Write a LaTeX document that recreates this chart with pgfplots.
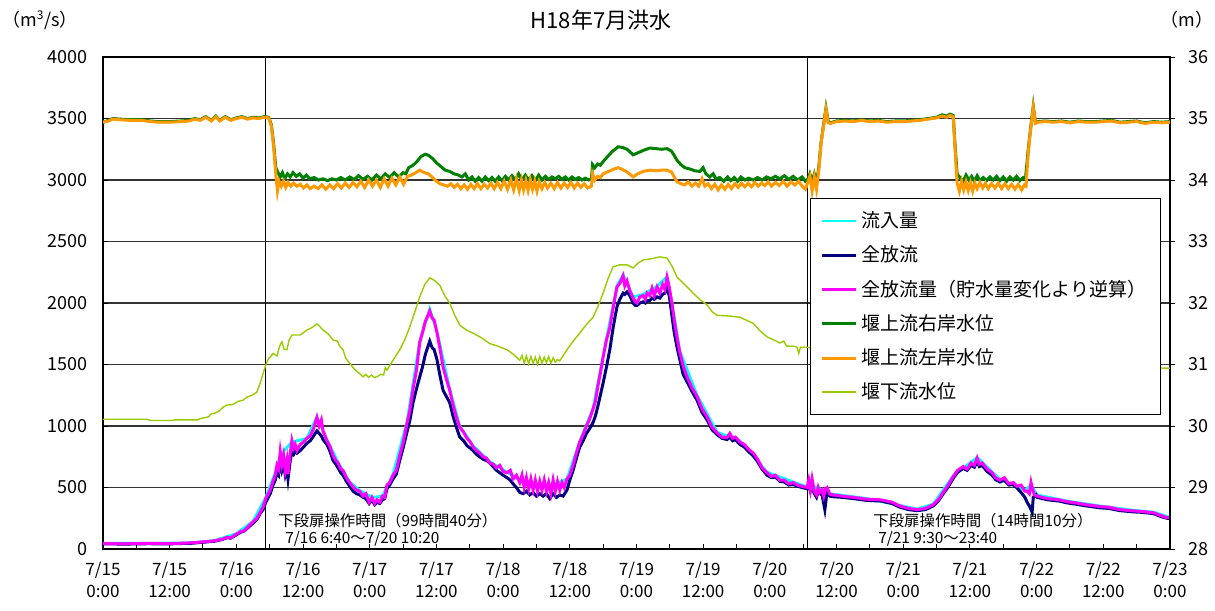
\documentclass[border=0pt]{standalone}
\usepackage{fontspec}
\setmainfont{Noto Sans CJK JP}
\usepackage{pgfplots}
\pgfplotsset{compat=1.18}
\definecolor{inflow}{RGB}{0,255,255}
\definecolor{outflow}{RGB}{0,0,128}
\definecolor{backcalc}{RGB}{255,0,255}
\definecolor{rightbank}{RGB}{0,128,0}
\definecolor{leftbank}{RGB}{255,153,0}
\definecolor{downstream}{RGB}{153,204,0}
\newcommand{\xtickfont}{\fontsize{8.5}{11}\selectfont}
\newcommand{\ytickfont}{\fontsize{9}{11}\selectfont}
\begin{document}
\begin{tikzpicture}
% left axis: discharge (m3/s)
\begin{axis}[
    scale only axis, width=533.5pt, height=246pt,
    xmin=0, xmax=192, ymin=0, ymax=4000,
    xtick={0,12,...,192}, minor xtick={6,18,...,186},
    xticklabels={7/15\\0:00,7/15\\12:00,7/16\\0:00,7/16\\12:00,7/17\\0:00,7/17\\12:00,7/18\\0:00,7/18\\12:00,7/19\\0:00,7/19\\12:00,7/20\\0:00,7/20\\12:00,7/21\\0:00,7/21\\12:00,7/22\\0:00,7/22\\12:00,7/23\\0:00},
    xticklabel style={align=center, font=\xtickfont, yshift=-3pt},
    ytick={0,500,...,4000},
    yticklabel style={font=\ytickfont, xshift=-4pt},
    /pgf/number format/assume math mode=true,
    scaled y ticks=false, yticklabel={\pgfmathprintnumber[1000 sep={}]{\tick}},
    xtick pos=bottom, ytick pos=left, tick align=inside,
    major tick length=2.5pt, minor tick length=2.5pt,
    tick style={black, line width=0.5pt},
    ymajorgrids, grid style={black!80, line width=0.6pt},
    axis line style={black, line width=0.6pt},
    clip mode=individual,
]
\addplot[black, line width=0.5pt, forget plot] coordinates {(29.3,0) (29.3,4000)};
\addplot[black, line width=0.5pt, forget plot] coordinates {(126.7,0) (126.7,4000)};
% inflow
\addplot[inflow, line width=1.4pt] coordinates {
(0,46)(8,46)(16,50)(20,68)(24,125)(27,225)(29.3,420)(31,620)(32,770)(34,870)(36.7,900)(38.5,1075)(40.3,890)(42.3,705)(44.4,545)(46.2,475)(48.5,420)(50.3,430)(52.2,610)(54.7,1030)(57,1690)(58.8,1950)(60.1,1770)(62.4,1300)(64.2,1000)(66.6,840)(69.6,710)(72.7,625)(75,560)(78,520)(81,520)(83.5,570)(85.8,875)(88.2,1145)(90,1570)(92.5,2140)(93.6,2230)(95.4,2050)(97.2,2070)(99.7,2135)(101.5,2215)(102.4,2000)(103.8,1610)(106.9,1250)(110.5,950)(114.6,880)(119.5,625)(124.2,545)(126.7,505)(128.5,500)(130.8,450)(137.5,410)(143.4,355)(146.5,325)(149.4,365)(153,595)(157.3,745)(161.4,565)(165.9,480)(167,520)(168.1,440)(173.5,390)(179.4,350)(185.4,315)(189,300)(192,258)
};
% total outflow
\addplot[outflow, line width=1.5pt] coordinates {
(0,42)(4,40)(8,43)(12,42)(16,47)(18,55)(20,63)(21.5,78)(22.3,92)(23,88)(23.8,110)(24.7,135)(25.5,148)(26.2,178)(27,210)(27.7,240)(28.3,290)(28.8,320)(29.3,380)(30.1,450)(30.6,520)(31.0,560)(31.3,620)(31.6,600)(31.9,720)(32.2,640)(32.5,690)(32.8,600)(33.1,650)(33.3,570)(33.7,720)(34.0,790)(34.3,770)(34.6,800)(34.9,780)(35.5,800)(36.1,830)(36.7,860)(37.3,880)(37.9,920)(38.5,960)(38.9,940)(39.3,920)(39.6,890)(40.3,850)(40.8,800)(41.4,720)(41.9,690)(42.3,660)(42.8,620)(43.2,600)(43.8,550)(44.4,510)(45.0,470)(45.6,450)(46.2,440)(46.8,420)(47.3,410)(47.9,370)(48.4,400)(48.9,360)(49.3,380)(49.8,370)(50.3,400)(50.7,410)(51.1,490)(51.6,520)(52.2,570)(52.8,610)(53.4,720)(54.0,820)(54.7,950)(55.2,1040)(55.8,1190)(56.4,1300)(57.0,1400)(57.5,1480)(58.0,1580)(58.5,1650)(58.8,1690)(59.2,1640)(59.6,1620)(60.1,1540)(60.6,1420)(61.2,1290)(61.8,1240)(62.4,1190)(63.0,1080)(63.6,990)(64.2,910)(64.9,880)(65.5,840)(66.1,820)(66.6,800)(67.2,770)(67.8,750)(68.4,730)(69.0,720)(69.6,700)(70.2,670)(70.8,640)(71.4,620)(72.0,600)(72.7,580)(73.3,560)(73.8,530)(74.4,500)(75.0,460)(75.6,450)(76.2,470)(76.8,440)(77.4,460)(78.0,430)(78.6,450)(79.2,430)(79.8,450)(80.4,410)(81.0,450)(81.6,420)(82.2,440)(82.8,430)(83.5,480)(84.0,560)(84.6,640)(85.2,740)(85.8,830)(86.4,880)(87.0,940)(87.6,980)(88.2,1030)(88.6,1080)(89.0,1150)(89.5,1250)(90.0,1350)(90.6,1480)(91.2,1620)(91.8,1800)(92.2,1900)(92.5,1970)(93.0,2030)(93.6,2080)(93.9,2070)(94.3,2090)(94.8,2060)(95.4,2000)(95.8,1980)(96.1,1980)(96.6,2000)(97.2,2010)(97.6,2000)(97.9,2020)(98.4,2020)(98.8,2040)(99.2,2030)(99.7,2050)(100.2,2040)(100.7,2070)(101.1,2080)(101.5,2120)(101.9,2060)(102.4,1890)(102.8,1760)(103.3,1640)(103.8,1540)(104.4,1420)(105.1,1360)(106.0,1280)(106.9,1210)(107.8,1110)(108.7,1050)(109.6,970)(110.5,930)(111.4,900)(112.3,890)(112.8,910)(113.3,880)(113.8,890)(114.6,850)(115.4,830)(116.2,790)(117.0,760)(117.8,710)(118.6,650)(119.5,600)(120.3,580)(121.0,585)(121.8,550)(122.6,545)(123.4,520)(124.2,525)(125.0,510)(125.8,500)(126.7,490)(127.0,520)(127.3,470)(127.6,500)(128.0,450)(128.4,420)(128.7,470)(129.0,450)(129.4,440)(129.9,320)(130.3,470)(130.8,430)(131.4,425)(133,420)(135,410)(137.5,395)(140,390)(142,370)(143.4,340)(145,320)(146.5,312)(148,320)(149.4,350)(150.3,390)(151.2,450)(152.1,505)(153.0,575)(153.8,625)(154.8,655)(155.5,640)(156.2,680)(156.8,665)(157.3,710)(157.7,670)(158.2,680)(159.1,630)(160.0,600)(160.6,565)(161.4,545)(162.2,560)(163.0,520)(163.8,525)(164.5,495)(165.2,460)(165.9,420)(166.3,380)(166.7,350)(167.2,300)(167.4,420)(167.9,440)(168.1,420)(170,400)(172,390)(173.5,375)(175,365)(177,350)(179.4,335)(181,330)(183,312)(185.4,302)(187,298)(189.0,288)(190.5,262)(191.5,250)(192,250)
};
% total outflow back-calculated from storage change
\addplot[backcalc, line width=1.5pt] coordinates {
(0,45)(4,42)(8,46)(12,44)(16,50)(18,58)(20,66)(21.5,80)(22.3,95)(23,90)(23.8,115)(24.7,140)(25.5,150)(26.2,185)(27,220)(27.7,250)(28.3,300)(28.8,340)(29.3,410)(30.1,480)(30.6,550)(31.0,600)(31.3,680)(31.6,650)(31.9,790)(32.2,690)(32.5,760)(32.8,640)(33.1,720)(33.3,610)(33.7,780)(34.0,880)(34.3,820)(34.6,850)(34.9,800)(35.5,850)(36.1,870)(36.7,900)(37.3,920)(37.9,980)(38.5,1070)(38.9,1000)(39.3,1050)(39.6,960)(40.3,880)(40.8,840)(41.4,760)(41.9,720)(42.3,700)(42.8,650)(43.2,640)(43.8,580)(44.4,540)(45.0,505)(45.6,480)(46.2,470)(46.8,430)(47.3,450)(47.9,380)(48.4,420)(48.9,370)(49.3,400)(49.8,380)(50.3,430)(50.7,420)(51.1,520)(51.6,540)(52.2,600)(52.8,640)(53.4,760)(54.0,860)(54.7,1020)(55.2,1120)(55.8,1300)(56.4,1450)(57.0,1680)(57.5,1760)(58.0,1850)(58.5,1900)(58.8,1935)(59.2,1880)(59.6,1860)(60.1,1760)(60.6,1640)(61.2,1480)(61.8,1380)(62.4,1290)(63.0,1170)(63.6,1070)(64.2,990)(64.9,950)(65.5,900)(66.1,870)(66.6,830)(67.2,800)(67.8,780)(68.4,750)(69.0,740)(69.6,700)(70.2,690)(70.8,660)(71.4,680)(72.0,630)(72.7,620)(73.3,640)(73.8,570)(74.4,600)(75.0,540)(75.4,600)(75.8,500)(76.2,580)(76.6,490)(77.0,570)(77.4,480)(77.8,560)(78.2,470)(78.6,550)(79.0,480)(79.4,560)(79.8,470)(80.2,540)(80.6,450)(81.0,560)(81.4,470)(81.8,550)(82.2,480)(82.6,540)(83.0,500)(83.5,570)(84.0,600)(84.6,680)(85.2,780)(85.8,870)(86.4,930)(87.0,1000)(87.6,1060)(88.2,1140)(88.6,1200)(89.0,1310)(89.5,1430)(90.0,1560)(90.6,1700)(91.2,1800)(91.8,1960)(92.2,2060)(92.5,2130)(93.0,2160)(93.6,2220)(93.9,2140)(94.3,2180)(94.8,2100)(95.4,2040)(95.8,2010)(96.1,2000)(96.6,2050)(97.2,2060)(97.6,2030)(97.9,2080)(98.4,2060)(98.8,2120)(99.2,2060)(99.7,2130)(100.2,2080)(100.7,2150)(101.1,2110)(101.5,2210)(101.9,2130)(102.4,1990)(102.8,1860)(103.3,1720)(103.8,1600)(104.4,1490)(105.1,1400)(106.0,1310)(106.9,1240)(107.8,1140)(108.7,1075)(109.6,990)(110.5,945)(111.4,910)(112.3,905)(112.8,940)(113.3,900)(113.8,910)(114.6,870)(115.4,850)(116.2,810)(117.0,780)(117.8,730)(118.6,660)(119.5,620)(120.3,590)(121.0,600)(121.8,560)(122.6,560)(123.4,530)(124.2,540)(125.0,520)(125.8,510)(126.7,500)(127.0,560)(127.3,480)(127.6,570)(128.0,470)(128.4,440)(128.7,500)(129.0,460)(129.4,480)(129.7,430)(130.0,490)(130.3,500)(130.8,445)(131.4,440)(133,430)(135,420)(137.5,405)(140,400)(142,380)(143.4,350)(145,330)(146.5,320)(148,330)(149.4,360)(150.3,400)(151.2,460)(152.1,520)(153.0,590)(153.8,640)(154.8,670)(155.5,650)(156.2,700)(156.8,680)(157.3,740)(157.7,690)(158.2,700)(159.1,650)(160.0,620)(160.6,580)(161.4,560)(162.2,580)(163.0,530)(163.8,540)(164.5,510)(165.2,520)(165.9,470)(166.3,470)(166.7,450)(167.0,540)(167.2,500)(167.6,440)(168.1,430)(170,410)(172,400)(173.5,385)(175,375)(177,360)(179.4,345)(181,340)(183,320)(185.4,310)(187,305)(189.0,295)(190.5,270)(191.5,255)(192,255)
};
\node[font=\fontsize{11}{13}\selectfont] at (rel axis cs:0.4667,1.075) {H18年7月洪水};
\node[font=\ytickfont] at (rel axis cs:-0.059,1.075) {（m\textsuperscript{3}/s）};
\node[font=\ytickfont] at (rel axis cs:1.0160,1.075) {（m）};
\node[font=\fontsize{7.7}{9}\selectfont, anchor=west, inner sep=0pt] at (rel axis cs:0.164,0.057) {下段扉操作時間（99時間40分）};
\node[font=\fontsize{7.7}{9}\selectfont, anchor=west, inner sep=0pt] at (rel axis cs:0.1706,0.0203) {7/16 6:40～7/20 10:20};
\node[font=\fontsize{7.7}{9}\selectfont, anchor=west, inner sep=0pt] at (rel axis cs:0.7217,0.057) {下段扉操作時間（14時間10分）};
\node[font=\fontsize{7.7}{9}\selectfont, anchor=west, inner sep=0pt] at (rel axis cs:0.7263,0.0203) {7/21 9:30～23:40};
\coordinate (bl) at (rel axis cs:-0.0965,-0.124);
\coordinate (tr) at (rel axis cs:1.0422,1.1159);
\end{axis}
% right axis: water level (m)
\begin{axis}[
    scale only axis, width=533.5pt, height=246pt,
    xmin=0, xmax=192, ymin=28, ymax=36,
    axis x line=none, axis y line*=right,
    ytick={28,...,36},
    yticklabel style={font=\ytickfont, xshift=3pt},
    /pgf/number format/assume math mode=true,
    tick align=outside, major tick length=2.5pt,
    tick style={black, line width=0.5pt},
    axis line style={black, line width=0.6pt},
    legend style={at={(rel axis cs:0.6626,0.7134)}, anchor=north west,
        draw=black, fill=white, line width=0.5pt,
        font=\fontsize{9.5}{11}\selectfont, row sep=3.6pt,
        inner xsep=5pt, inner ysep=4.5pt},
    legend cell align=left,
]
\addlegendimage{inflow, line width=1.4pt}
\addlegendentry{流入量}
\addlegendimage{outflow, line width=1.5pt}
\addlegendentry{全放流}
\addlegendimage{backcalc, line width=1.5pt}
\addlegendentry{全放流量（貯水量変化より逆算）}
% right bank upstream level
\addplot[rightbank, line width=1.5pt] coordinates {
(0,34.94)(1,34.97)(1.8,35.0)(3,34.99)(5,34.98)(7,34.98)(8.5,34.96)(10,34.95)(12,34.95)(14,34.96)(15.5,34.97)(16.5,35.0)(17.5,34.98)(18.5,35.03)(19.5,34.97)(20.3,35.04)(21,34.97)(22,35.03)(23,34.98)(24,35.01)(25,35.03)(26,35.0)(27,35.02)(28,35.01)(29.0,35.03)(29.8,35.02)(30.3,34.9)(30.7,34.6)(31.1,34.2)(31.5,34.12)(31.9,34.05)(32.3,34.12)(32.7,34.02)(33.2,34.1)(33.7,34.05)(34.2,34.12)(34.8,34.06)(35.4,34.1)(36,34.03)(36.6,34.08)(37.2,34.02)(38,34.04)(38.8,34.0)(39.6,34.02)(40.4,33.99)(41.2,34.02)(42,34.0)(42.8,34.04)(43.6,34.0)(44.4,34.05)(45.2,34.01)(46,34.07)(46.8,34.01)(47.6,34.06)(48.4,34.0)(49.2,34.08)(50,34.02)(50.8,34.1)(51.6,34.04)(52.4,34.12)(53.2,34.05)(54,34.12)(54.5,34.1)(55,34.2)(55.8,34.24)(56.5,34.3)(57.2,34.38)(58,34.42)(58.6,34.4)(59.3,34.35)(60,34.28)(60.8,34.22)(61.6,34.16)(62.4,34.14)(63.2,34.1)(64,34.08)(64.6,34.05)(65.2,34.1)(65.8,34.0)(66.4,34.05)(67,33.98)(67.6,34.04)(68.2,33.98)(68.8,34.05)(69.4,33.99)(70,34.04)(70.6,33.98)(71.2,34.05)(71.8,33.99)(72.4,34.06)(73,34.0)(73.6,34.07)(74.2,34.0)(74.8,34.1)(75.4,34.0)(76,34.08)(76.6,34.0)(77.2,34.07)(77.8,33.99)(78.4,34.08)(79,34.0)(79.6,34.06)(80.2,34.01)(80.8,34.05)(81.4,34.02)(82,34.06)(82.6,34.01)(83.2,34.05)(83.8,34.0)(84.4,34.05)(85,34.01)(85.6,34.04)(86.2,34.0)(86.8,34.03)(87.4,34.0)(87.9,34.02)(88.1,34.25)(88.5,34.2)(89,34.26)(89.5,34.24)(90,34.3)(90.8,34.38)(91.6,34.46)(92.7,34.54)(93.5,34.53)(94.3,34.5)(95.4,34.41)(96.2,34.44)(97.2,34.48)(98.4,34.52)(99.5,34.51)(100.5,34.5)(101.5,34.51)(102.3,34.47)(102.8,34.4)(103.3,34.32)(104,34.25)(104.7,34.2)(105.6,34.18)(106.5,34.15)(107.4,34.14)(108.0,34.2)(108.5,34.1)(109.2,34.05)(109.8,34.1)(110.3,34.02)(111,34.04)(111.7,33.98)(112.4,34.05)(113,33.99)(113.6,34.04)(114.2,33.98)(114.8,34.05)(115.5,34.0)(116.2,34.03)(117,34.0)(117.8,34.04)(118.6,34.0)(119.4,34.05)(120.2,34.02)(121,34.06)(121.8,34.02)(122.6,34.07)(123.4,34.01)(124.2,34.06)(125,34.0)(125.8,34.05)(126.4,33.98)(126.9,34.02)(127.2,34.1)(127.6,33.98)(128.0,34.1)(128.4,33.96)(128.8,34.2)(129.2,34.6)(129.7,34.92)(130.1,35.17)(130.5,34.95)(130.9,34.93)(132,34.96)(133.5,34.97)(135,34.96)(136.5,34.98)(138,34.96)(139.5,34.97)(141,34.95)(142.5,34.96)(144,34.96)(145.5,34.97)(147,34.98)(148.5,35.0)(150,35.02)(151,35.06)(151.8,35.04)(152.4,35.07)(153,35.05)(153.3,34.6)(153.7,34.1)(154.2,34.04)(154.8,33.98)(155.3,34.08)(155.8,34.0)(156.3,34.06)(156.8,33.98)(157.3,34.07)(157.8,33.99)(158.4,34.04)(159,33.99)(159.6,34.05)(160.2,34.0)(160.8,34.06)(161.4,33.99)(162,34.05)(162.6,33.98)(163.2,34.05)(163.8,34.0)(164.4,34.06)(165,33.99)(165.6,34.04)(166.0,34.02)(166.5,34.5)(167,34.9)(167.4,35.2)(167.8,34.93)(168.3,34.95)(169.5,34.96)(171,34.95)(172.5,34.96)(174,34.94)(175.5,34.96)(177,34.95)(178.5,34.95)(180,34.96)(181.5,34.97)(183,34.94)(184.5,34.95)(186,34.96)(187.5,34.93)(189,34.95)(190.5,34.94)(192,34.95)
};
\addlegendentry{堰上流右岸水位}
% left bank upstream level
\addplot[leftbank, line width=1.5pt] coordinates {
(0,34.94)(1,34.96)(1.8,34.99)(3,34.98)(5,34.97)(7,34.97)(8.5,34.95)(10,34.94)(12,34.94)(14,34.95)(15.5,34.96)(16.5,34.99)(17.5,34.97)(18.5,35.02)(19.5,34.96)(20.3,35.03)(21,34.96)(22,35.02)(23,34.97)(24,35.0)(25,35.02)(26,34.99)(27,35.01)(28,35.0)(29.0,35.02)(29.8,35.01)(30.3,34.88)(30.7,34.55)(31.1,34.1)(31.4,33.82)(31.7,33.98)(32.1,33.9)(32.5,33.98)(32.9,33.88)(33.3,33.96)(33.8,33.9)(34.3,33.95)(34.9,33.9)(35.5,33.93)(36.1,33.87)(36.7,33.92)(37.3,33.86)(38,33.9)(38.7,33.86)(39.4,33.92)(40.1,33.85)(40.8,33.92)(41.5,33.86)(42.2,33.94)(42.9,33.87)(43.6,33.95)(44.3,33.88)(45,33.96)(45.7,33.89)(46.4,33.98)(47.1,33.88)(47.8,34.0)(48.5,33.9)(49.2,34.0)(49.9,33.88)(50.6,34.02)(51.3,33.9)(52,34.03)(52.7,33.92)(53.4,34.05)(54.1,33.93)(54.8,34.06)(55.5,34.08)(56.3,34.12)(57,34.16)(57.8,34.12)(58.6,34.1)(59.3,34.04)(60,33.98)(60.6,33.94)(61.3,33.92)(62,33.9)(62.6,33.94)(63.2,33.88)(63.8,33.93)(64.4,33.86)(65,33.92)(65.6,33.85)(66.2,33.93)(66.8,33.86)(67.4,33.94)(68,33.86)(68.6,33.93)(69.2,33.87)(69.8,33.95)(70.4,33.86)(71,33.96)(71.6,33.86)(72.2,33.98)(72.8,33.85)(73.4,34.0)(73.9,33.84)(74.4,34.02)(74.9,33.83)(75.3,34.0)(75.7,33.84)(76.1,33.99)(76.5,33.83)(76.9,34.0)(77.3,33.85)(77.7,33.98)(78.1,33.82)(78.5,33.97)(79,33.86)(79.5,33.96)(80,33.87)(80.6,33.95)(81.2,33.86)(81.8,33.96)(82.4,33.87)(83,33.95)(83.6,33.88)(84.2,33.96)(84.8,33.87)(85.4,33.95)(86,33.88)(86.6,33.94)(87.2,33.87)(87.9,33.9)(88.1,34.1)(88.5,34.0)(89,34.06)(89.5,34.04)(90,34.1)(91,34.14)(92,34.18)(92.7,34.2)(93.5,34.17)(94.3,34.13)(95,34.08)(95.4,34.05)(96.2,34.1)(97.2,34.14)(98.4,34.16)(99.5,34.15)(100.5,34.16)(101.5,34.16)(102.3,34.13)(102.8,34.05)(103.3,33.97)(104,33.94)(104.7,33.92)(105.3,33.97)(106,33.9)(106.6,33.95)(107.2,33.9)(107.8,34.02)(108.3,33.9)(108.9,33.94)(109.5,33.86)(110.1,33.93)(110.7,33.84)(111.3,33.92)(111.9,33.85)(112.5,33.93)(113.1,33.86)(113.7,33.94)(114.3,33.88)(114.9,33.95)(115.5,33.89)(116.1,33.95)(116.7,33.89)(117.3,33.96)(117.9,33.9)(118.5,33.95)(119.1,33.91)(119.7,33.97)(120.3,33.9)(121,33.96)(121.7,33.91)(122.4,33.98)(123.1,33.9)(123.8,33.97)(124.5,33.92)(125.2,33.98)(125.8,33.9)(126.4,33.85)(126.9,33.98)(127.2,34.06)(127.6,33.82)(128.0,34.05)(128.4,33.85)(128.8,34.15)(129.2,34.58)(129.7,34.9)(130.1,35.15)(130.5,34.93)(130.9,34.92)(132,34.95)(133.5,34.96)(135,34.95)(136.5,34.97)(138,34.95)(139.5,34.96)(141,34.94)(142.5,34.95)(144,34.95)(145.5,34.96)(147,34.97)(148.5,34.99)(150,35.01)(151,35.04)(151.8,35.02)(152.4,35.05)(153,35.03)(153.3,34.55)(153.7,33.95)(154.1,33.82)(154.5,33.98)(154.9,33.84)(155.3,33.97)(155.7,33.83)(156.1,33.96)(156.5,33.82)(156.9,33.95)(157.3,33.86)(157.8,33.96)(158.3,33.87)(158.8,33.95)(159.3,33.86)(159.9,33.94)(160.5,33.87)(161.1,33.95)(161.7,33.86)(162.3,33.94)(162.9,33.86)(163.5,33.93)(164.1,33.85)(164.7,33.93)(165.3,33.84)(165.8,33.92)(166.1,33.9)(166.5,34.45)(167,34.88)(167.4,35.18)(167.8,34.92)(168.3,34.94)(169.5,34.95)(171,34.94)(172.5,34.95)(174,34.93)(175.5,34.95)(177,34.94)(178.5,34.94)(180,34.95)(181.5,34.96)(183,34.93)(184.5,34.94)(186,34.95)(187.5,34.92)(189,34.94)(190.5,34.93)(192,34.94)
};
\addlegendentry{堰上流左岸水位}
% downstream level
\addplot[downstream, line width=0.7pt] coordinates {
(0,30.11)(8,30.11)(8.5,30.09)(12.5,30.09)(13,30.1)(17,30.1)(17.5,30.12)(19,30.15)(19.5,30.2)(20.2,30.21)(21,30.25)(21.5,30.3)(22.3,30.34)(23.4,30.35)(24.3,30.4)(25.2,30.42)(25.9,30.47)(26.8,30.5)(27.7,30.55)(28.3,30.7)(28.8,30.85)(29.3,30.99)(29.8,31.1)(30.1,31.12)(30.6,31.18)(31.3,31.14)(31.8,31.3)(32.2,31.37)(32.6,31.25)(33.1,31.24)(33.5,31.4)(34.0,31.48)(35.5,31.48)(36.7,31.56)(37.6,31.6)(38.5,31.66)(39.0,31.62)(39.6,31.56)(40.5,31.5)(41.4,31.4)(42.2,31.38)(42.6,31.3)(43.2,31.24)(43.7,31.1)(44.4,31.02)(45.3,30.92)(46.2,30.85)(46.8,30.8)(47.3,30.84)(47.8,30.79)(48.3,30.83)(48.8,30.79)(49.3,30.8)(50.0,30.84)(50.5,30.83)(50.8,30.95)(51.1,30.91)(52.2,31.07)(53.4,31.24)(54.3,31.4)(55.2,31.61)(56.1,31.85)(57.0,32.1)(57.9,32.3)(58.8,32.41)(59.6,32.37)(60.6,32.29)(61.5,32.12)(62.4,32.0)(63.3,31.8)(64.2,31.64)(65.4,31.56)(66.6,31.51)(68,31.44)(69.6,31.34)(71,31.3)(72.7,31.24)(73.8,31.17)(75.0,31.07)(75.4,31.15)(75.8,31.02)(76.2,31.14)(76.6,31.01)(77.0,31.13)(77.4,31.02)(77.8,31.12)(78.2,31.0)(78.6,31.13)(79.0,31.02)(79.4,31.12)(79.8,31.03)(80.2,31.13)(80.6,31.02)(81.0,31.11)(81.4,31.04)(81.8,31.08)(82.2,31.06)(83.5,31.24)(84.6,31.38)(85.8,31.51)(87,31.65)(88.2,31.77)(89.1,31.95)(90.0,32.16)(90.9,32.4)(91.8,32.59)(93,32.62)(94.3,32.62)(95.4,32.57)(96.3,32.65)(97.2,32.7)(98.7,32.72)(100.2,32.75)(101.5,32.73)(102.4,32.6)(103.3,32.42)(104.7,32.3)(106.2,32.16)(107.5,32.05)(108.7,31.97)(109.6,31.86)(110.5,31.8)(112.5,31.79)(114.6,31.77)(115.8,31.72)(117.0,31.67)(118.2,31.55)(119.5,31.45)(120.7,31.4)(121.8,31.35)(122.5,31.38)(123,31.3)(124.2,31.3)(124.9,31.28)(125.2,31.18)(125.5,31.28)(126.7,31.28)(140,31.15)(160,31.0)(192,30.94)
};
\addlegendentry{堰下流水位}
\end{axis}
\pgfresetboundingbox
\path[use as bounding box] (bl) rectangle (tr);
\end{tikzpicture}
\end{document}
